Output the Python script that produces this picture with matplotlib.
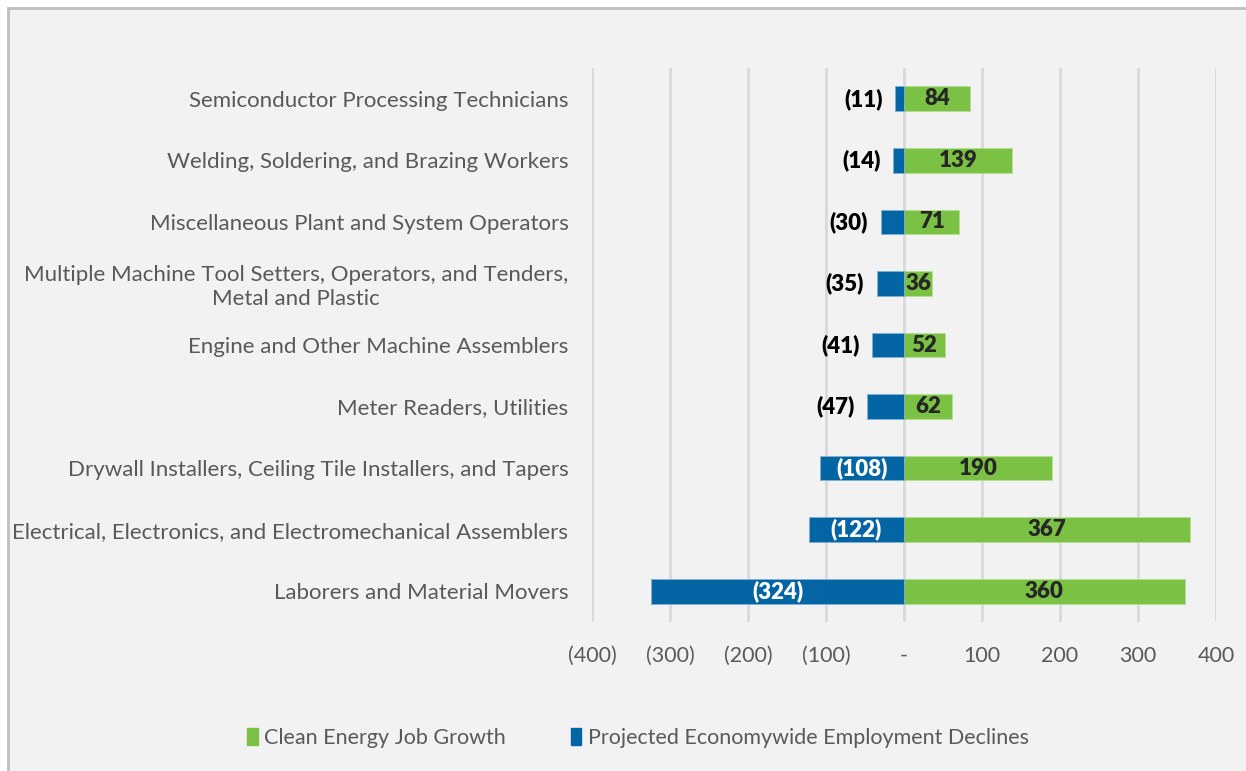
import matplotlib.pyplot as plt
from matplotlib.patches import Rectangle, Patch

plt.rcParams['font.family'] = ['Lato', 'DejaVu Sans']

categories = [
    'Semiconductor Processing Technicians',
    'Welding, Soldering, and Brazing Workers',
    'Miscellaneous Plant and System Operators',
    'Multiple Machine Tool Setters, Operators, and Tenders,\nMetal and Plastic',
    'Engine and Other Machine Assemblers',
    'Meter Readers, Utilities',
    'Drywall Installers, Ceiling Tile Installers, and Tapers',
    'Electrical, Electronics, and Electromechanical Assemblers',
    'Laborers and Material Movers',
]
growth = [84, 139, 71, 36, 52, 62, 190, 367, 360]
declines = [-11, -14, -30, -35, -41, -47, -108, -122, -324]
xticks = [-400, -300, -200, -100, 0, 100, 200, 300, 400]
xticklabels = ['(400)', '(300)', '(200)', '(100)', '-', '100', '200', '300', '400']

green = '#7bc143'
blue = '#0465a5'
bg = '#f2f2f2'
fs = 15.5

fig = plt.figure(figsize=(12.46, 7.71), dpi=100)
fig.patch.set_facecolor('white')
# chart frame
frame = Rectangle((8 / 1246, -0.1), 1.2, 1 - 8 / 771 + 0.1,
                  transform=fig.transFigure, facecolor=bg,
                  edgecolor='#bfbfbf', linewidth=2, zorder=-10)
fig.add_artist(frame)

ax = fig.add_axes([592 / 1246, 1 - 622 / 771, 624 / 1246, 554 / 771])
ax.set_facecolor('none')

y = list(range(len(categories)))
ax.barh(y, growth, height=0.4, color=green, edgecolor='#b5dd95', linewidth=0.6, zorder=3)
ax.barh(y, declines, height=0.4, color=blue, edgecolor='#7fb0d1', linewidth=0.6, zorder=3)

for i, (g, d) in enumerate(zip(growth, declines)):
    ax.text(g / 2, i, str(g), ha='center', va='center', fontsize=16,
            fontweight='heavy', color='#262626', zorder=4)
    lab = '(%d)' % abs(d)
    if abs(d) < 60:
        ax.text(d - 16, i, lab, ha='right', va='center', fontsize=16,
                fontweight='heavy', color='black', zorder=4)
    else:
        ax.text(d / 2, i, lab, ha='center', va='center', fontsize=16,
                fontweight='heavy', color='white', zorder=4)

ax.set_xlim(-400, 400)
ax.set_ylim(len(categories) - 0.5, -0.5)
ax.set_xticks(xticks)
ax.set_xticklabels(xticklabels, fontsize=fs, color='#595959')
ax.set_yticks(y)
ax.set_yticklabels(categories, fontsize=16, color='#595959')
ax.tick_params(axis='x', length=0, pad=17)
ax.tick_params(axis='y', length=0, pad=17)
for lbl in ax.get_yticklabels():
    lbl.set_horizontalalignment('right')
    lbl.set_multialignment('center')
ax.xaxis.grid(True, color='#d9d9d9', linewidth=2, zorder=0)
ax.set_axisbelow(True)
for s in ax.spines.values():
    s.set_visible(False)

handles = [Patch(color=green, label='Clean Energy Job Growth'),
           Patch(color=blue, label='Projected Economywide Employment Declines')]
fig.legend(handles=handles, loc='center', bbox_to_anchor=(638 / 1246, 1 - 738 / 771),
           ncol=2, frameon=False, fontsize=fs, handlelength=0.5, handleheight=0.8,
           handletextpad=0.3, columnspacing=3.0, labelcolor='#595959')

fig.savefig('out.png', dpi=100, facecolor=fig.get_facecolor())
